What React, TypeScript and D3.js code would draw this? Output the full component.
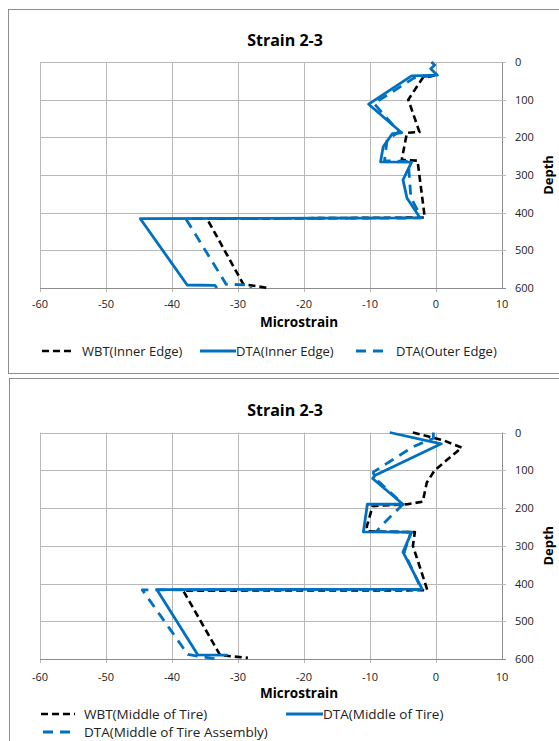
import React, { useRef, useEffect } from "react";
import * as d3 from "d3";

const strainTicks = [-60, -50, -40, -30, -20, -10, 0, 10];
const depthTicks = [0, 100, 200, 300, 400, 500, 600];
const titleText = "Strain 2-3";

// upper chart: inner / outer edge
const wbtInnerStrain = [-0.2, -2.0, -4.2, -2.5, -4.4, -5.2, -2.8, -1.7, -34.7, -29.2, -25.4];
const wbtInnerDepth = [36, 42, 100, 186, 188, 260, 262, 413, 416, 590, 600];
const dtaInnerStrain = [-0.7, -0.2, -0.8, 0.2, -3.7, -10.2, -5.2, -6.6, -8.0, -8.4, -3.7, -5.0, -4.4, -2.4, -44.8, -37.7, -33.5, -33.2];
const dtaInnerDepth = [0, 8, 18, 35, 37, 112, 188, 190, 225, 265, 266, 313, 361, 414, 416, 592, 593, 600];
const dtaOuterStrain = [-0.5, -3.3, -9.4, -5.6, -7.4, -7.8, -4.2, -4.0, -3.8, -2.2, -37.9, -31.8, -28.2, -28.0];
const dtaOuterDepth = [36, 42, 110, 186, 205, 262, 264, 315, 360, 414, 416, 590, 592, 600];

// lower chart: middle of tire
const wbtMidStrain = [-3.5, 1.0, 3.9, -0.2, -1.4, -2.0, -4.3, -9.6, -10.5, -10.3, -3.2, -3.5, -1.3, -38.3, -32.7, -28.5];
const wbtMidDepth = [0, 20, 40, 100, 133, 183, 190, 195, 250, 262, 264, 300, 418, 419, 590, 597];
const dtaMidStrain = [-7.0, 0.8, -9.2, -9.6, -5.0, -10.4, -11.0, -3.7, -5.0, -2.1, -42.3, -36.1, -31.6];
const dtaMidDepth = [0, 30, 113, 122, 190, 190, 263, 264, 317, 415, 416, 589, 590];
const dtaAsmStrain = [-0.4, -0.4, -3.5, -9.5, -9.3, -5.0, -8.0, -9.0, -3.8, -4.8, -2.2, -44.5, -37.6, -33.3];
const dtaAsmDepth = [0, 15, 38, 105, 120, 190, 242, 262, 264, 317, 416, 417, 588, 600];

const BLUE = "#0070c0";
const font = "'Open Sans', sans-serif";

const App = () => {
  const svgRef = useRef(null);

  useEffect(() => {
    const svg = d3.select(svgRef.current);
    svg.selectAll("*").remove();

    const drawPanel = (cfg) => {
      const g = svg.append("g");
      g.append("rect")
        .attr("x", cfg.frame[0] + 0.5)
        .attr("y", cfg.frame[1] + 0.5)
        .attr("width", cfg.frame[2])
        .attr("height", cfg.frame[3])
        .attr("fill", "#fff")
        .attr("stroke", "#8c8c8c");

      const x = d3.scaleLinear().domain([-60, 10]).range([40, 502]);
      const y = d3.scaleLinear().domain([0, 600]).range([cfg.top, cfg.bottom]);

      // grid
      g.selectAll(".vg")
        .data(strainTicks)
        .enter()
        .append("line")
        .attr("x1", (d) => Math.round(x(d)) + 0.5)
        .attr("x2", (d) => Math.round(x(d)) + 0.5)
        .attr("y1", cfg.top)
        .attr("y2", (d, i) => cfg.bottom + (i === strainTicks.length - 1 ? 0 : 4))
        .attr("stroke", (d) => (d === 10 ? "#8c8c8c" : "#b8b8b8"));
      g.selectAll(".hg")
        .data(depthTicks)
        .enter()
        .append("line")
        .attr("x1", 40)
        .attr("x2", 506)
        .attr("y1", (d) => Math.round(y(d)) + 0.5)
        .attr("y2", (d) => Math.round(y(d)) + 0.5)
        .attr("stroke", (d) => (d === 600 ? "#8c8c8c" : "#b8b8b8"));

      // tick labels
      g.selectAll(".xl")
        .data(strainTicks)
        .enter()
        .append("text")
        .attr("x", (d) => x(d))
        .attr("y", cfg.tickY)
        .attr("text-anchor", "middle")
        .attr("font-family", font)
        .attr("font-size", 11)
        .attr("fill", "#222")
        .text((d) => d);
      g.selectAll(".yl")
        .data(depthTicks)
        .enter()
        .append("text")
        .attr("x", 515)
        .attr("y", (d) => y(d) + 4)
        .attr("font-family", font)
        .attr("font-size", 11)
        .attr("fill", "#222")
        .text((d) => d);

      g.append("text")
        .attr("x", 285)
        .attr("y", cfg.titleY)
        .attr("text-anchor", "middle")
        .attr("font-family", font)
        .attr("font-weight", "bold")
        .attr("font-size", 16)
        .text(titleText);
      g.append("text")
        .attr("x", 299)
        .attr("y", cfg.axisY)
        .attr("text-anchor", "middle")
        .attr("font-family", font)
        .attr("font-weight", "bold")
        .attr("font-size", 13.5)
        .text("Microstrain");
      g.append("text")
        .attr("transform", `translate(553,${(cfg.top + cfg.bottom) / 2}) rotate(-90)`)
        .attr("text-anchor", "middle")
        .attr("font-family", font)
        .attr("font-weight", "bold")
        .attr("font-size", 13)
        .text("Depth");

      // series
      const line = d3
        .line()
        .x((d) => x(d[0]))
        .y((d) => y(d[1]));
      cfg.series.forEach((s) => {
        g.append("path")
          .datum(d3.zip(s.strain, s.depth))
          .attr("fill", "none")
          .attr("stroke", s.color)
          .attr("stroke-width", s.color === BLUE ? 2.8 : 2.6)
          .attr("stroke-dasharray", s.dash)
          .attr("stroke-linejoin", "round")
          .attr("d", line);
      });

      // legend
      cfg.legend.forEach((it) => {
        const s = cfg.series[it.i];
        g.append("line")
          .attr("x1", it.x)
          .attr("x2", it.x + it.w)
          .attr("y1", it.y)
          .attr("y2", it.y)
          .attr("stroke", s.color)
          .attr("stroke-width", s.color === BLUE ? 2.8 : 2.6)
          .attr("stroke-dasharray", s.dash);
        g.append("text")
          .attr("x", it.tx)
          .attr("y", it.y + 4.5)
          .attr("font-family", font)
          .attr("font-size", cfg.legendSize)
          .attr("fill", "#222")
          .text(s.name);
      });
    };

    drawPanel({
      frame: [8, 9, 560, 364],
      top: 62,
      bottom: 288,
      titleY: 46,
      tickY: 308,
      axisY: 327,
      legendSize: 13,
      series: [
        { strain: wbtInnerStrain, depth: wbtInnerDepth, name: "WBT(Inner Edge)", color: "#000", dash: "7,4" },
        { strain: dtaInnerStrain, depth: dtaInnerDepth, name: "DTA(Inner Edge)", color: BLUE, dash: null },
        { strain: dtaOuterStrain, depth: dtaOuterDepth, name: "DTA(Outer Edge)", color: BLUE, dash: "10,7" },
      ],
      legend: [
        { i: 0, x: 42, w: 32, tx: 82, y: 351 },
        { i: 1, x: 200, w: 36, tx: 236, y: 351 },
        { i: 2, x: 356, w: 30, tx: 396, y: 351 },
      ],
    });

    drawPanel({
      frame: [9, 378, 560, 380],
      top: 432.5,
      bottom: 659,
      titleY: 416,
      tickY: 681,
      axisY: 698,
      legendSize: 13.5,
      series: [
        { strain: wbtMidStrain, depth: wbtMidDepth, name: "WBT(Middle of Tire)", color: "#000", dash: "7,4" },
        { strain: dtaMidStrain, depth: dtaMidDepth, name: "DTA(Middle of Tire)", color: BLUE, dash: null },
        { strain: dtaAsmStrain, depth: dtaAsmDepth, name: "DTA(Middle of Tire Assembly)", color: BLUE, dash: "10,7" },
      ],
      legend: [
        { i: 0, x: 41, w: 34, tx: 84, y: 714 },
        { i: 1, x: 286, w: 37, tx: 323, y: 714 },
        { i: 2, x: 43, w: 30, tx: 84, y: 732 },
      ],
    });
  }, []);

  return (
    <svg
      ref={svgRef}
      width={559}
      height={741}
      style={{ position: "absolute", left: 0, top: 0, background: "#fff" }}
    />
  );
};

export default App;
